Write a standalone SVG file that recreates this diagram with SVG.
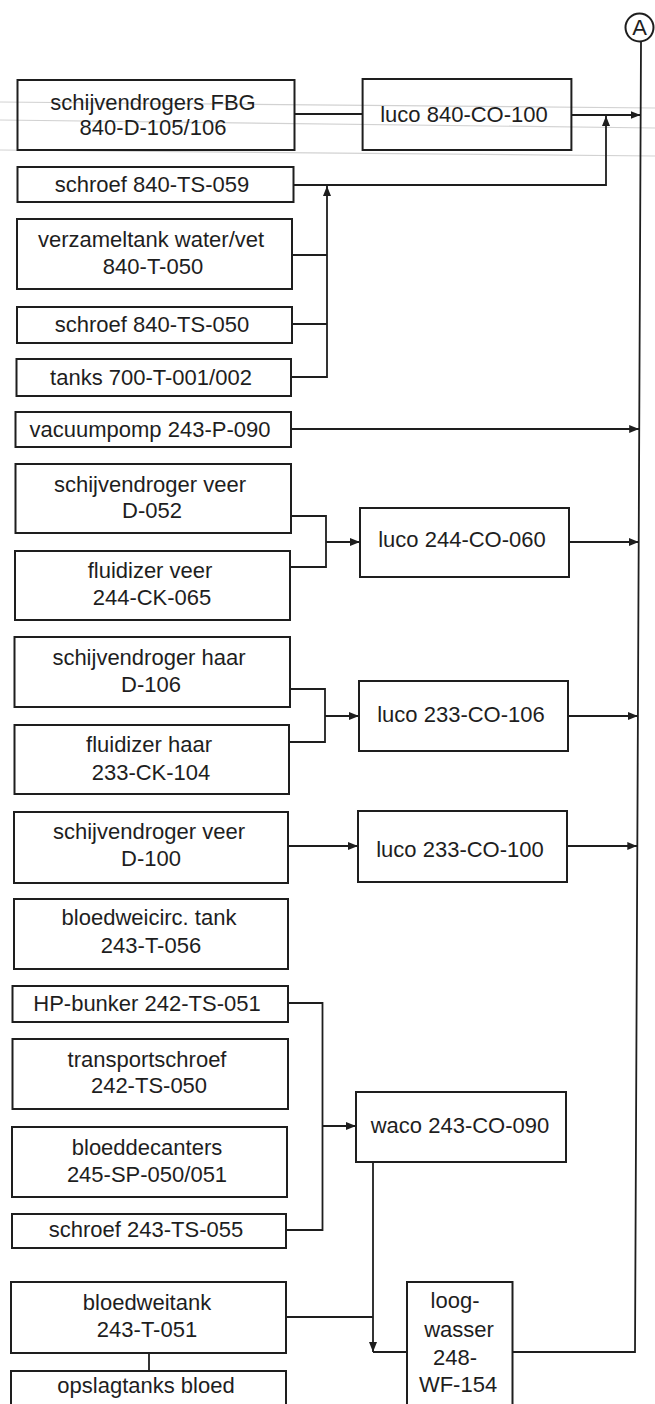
<svg xmlns="http://www.w3.org/2000/svg" width="655" height="1404" viewBox="0 0 655 1404">
  <style>
    .box { fill: none; stroke: #1e1e1e; stroke-width: 2; }
    .lbl { font-family: "Liberation Sans", Arial, sans-serif; font-size: 22px; fill: #1e1e1e; text-anchor: middle; }
    .wire { fill: none; stroke: #1e1e1e; stroke-width: 1.8; }
    .faint { fill: none; stroke: #d2d2d2; stroke-width: 1.2; }
  </style>
  <defs>
    <marker id="arrow" viewBox="0 0 10 8" refX="10" refY="4" markerWidth="10" markerHeight="8" markerUnits="userSpaceOnUse" orient="auto">
      <path d="M0,0 L10,4 L0,8 z" fill="#1e1e1e"/>
    </marker>
  </defs>
  <rect x="0" y="0" width="655" height="1404" fill="#ffffff"/>

  <!-- light ruling lines across the top band -->
  <g id="ruling">
    <line class="faint" x1="0" y1="102" x2="655" y2="108"/>
    <line class="faint" x1="0" y1="120" x2="655" y2="128"/>
    <line class="faint" x1="0" y1="150" x2="655" y2="156"/>
  </g>

  <!-- connectors -->
  <g id="connectors">
    <line class="wire" x1="294.5" y1="114" x2="362.6" y2="114"/>
    <line class="wire" x1="571.4" y1="115" x2="640.5" y2="115" marker-end="url(#arrow)"/>
    <polyline class="wire" points="293.6,185 606,185 606,116" marker-end="url(#arrow)"/>
    <polyline class="wire" points="292,255 327,255"/>
    <polyline class="wire" points="292,324 327,324"/>
    <polyline class="wire" points="291,377 327,377 327,186" marker-end="url(#arrow)"/>
    <line class="wire" x1="291" y1="429" x2="639.2" y2="429" marker-end="url(#arrow)"/>

    <polyline class="wire" points="291,516 326,516 326,567 290,567"/>
    <line class="wire" x1="326" y1="542" x2="360" y2="542" marker-end="url(#arrow)"/>
    <line class="wire" x1="569" y1="542" x2="638.7" y2="542" marker-end="url(#arrow)"/>

    <polyline class="wire" points="290,689 325,689 325,742 289,742"/>
    <line class="wire" x1="325" y1="716" x2="359" y2="716" marker-end="url(#arrow)"/>
    <line class="wire" x1="568" y1="716" x2="637.9" y2="716" marker-end="url(#arrow)"/>

    <line class="wire" x1="288" y1="846" x2="358" y2="846" marker-end="url(#arrow)"/>
    <line class="wire" x1="567" y1="846" x2="637.3" y2="846" marker-end="url(#arrow)"/>

    <polyline class="wire" points="288,1003 322.5,1003 322.5,1230 286,1230"/>
    <line class="wire" x1="322.5" y1="1126" x2="356" y2="1126" marker-end="url(#arrow)"/>

    <line class="wire" x1="373" y1="1162" x2="373" y2="1352" marker-end="url(#arrow)"/>
    <line class="wire" x1="373" y1="1352" x2="407" y2="1352"/>
    <line class="wire" x1="286" y1="1317" x2="373" y2="1317"/>
    <line class="wire" x1="149" y1="1353" x2="149" y2="1371"/>

    <polyline class="wire" points="512.5,1352 635,1352 641,42"/>
  </g>

  <!-- off-page connector A -->
  <g id="connector-A">
    <circle class="box" cx="639.5" cy="27.5" r="14" stroke-width="1.8"/>
    <text class="lbl" x="639.5" y="35" font-size="20">A</text>
  </g>

  <!-- sources, left column -->
  <g id="n-schijvendrogers-fbg">
    <rect class="box" x="17.5" y="80" width="277" height="70"/>
    <text class="lbl" x="153" y="110">schijvendrogers FBG</text>
    <text class="lbl" x="153" y="135">840-D-105/106</text>
  </g>
  <g id="n-schroef-840-ts-059">
    <rect class="box" x="17.5" y="167" width="276" height="35"/>
    <text class="lbl" x="152" y="192">schroef 840-TS-059</text>
  </g>
  <g id="n-verzameltank">
    <rect class="box" x="17" y="219" width="275" height="70"/>
    <text class="lbl" x="151" y="247">verzameltank water/vet</text>
    <text class="lbl" x="153" y="274">840-T-050</text>
  </g>
  <g id="n-schroef-840-ts-050">
    <rect class="box" x="17" y="307" width="275" height="36"/>
    <text class="lbl" x="152" y="332">schroef 840-TS-050</text>
  </g>
  <g id="n-tanks-700">
    <rect class="box" x="16.5" y="359" width="274.5" height="37"/>
    <text class="lbl" x="151" y="385">tanks 700-T-001/002</text>
  </g>
  <g id="n-vacuumpomp">
    <rect class="box" x="15.5" y="412" width="275.5" height="35"/>
    <text class="lbl" x="150" y="437">vacuumpomp 243-P-090</text>
  </g>
  <g id="n-schijvendroger-d052">
    <rect class="box" x="15.5" y="464" width="275.5" height="69"/>
    <text class="lbl" x="150" y="492">schijvendroger veer</text>
    <text class="lbl" x="152" y="518">D-052</text>
  </g>
  <g id="n-fluidizer-veer">
    <rect class="box" x="15" y="551" width="275" height="69"/>
    <text class="lbl" x="150" y="578">fluidizer veer</text>
    <text class="lbl" x="152" y="605">244-CK-065</text>
  </g>
  <g id="n-schijvendroger-d106">
    <rect class="box" x="14.5" y="637" width="275.5" height="70"/>
    <text class="lbl" x="149" y="665">schijvendroger haar</text>
    <text class="lbl" x="151" y="692">D-106</text>
  </g>
  <g id="n-fluidizer-haar">
    <rect class="box" x="14.5" y="725" width="274.5" height="69"/>
    <text class="lbl" x="149" y="752">fluidizer haar</text>
    <text class="lbl" x="151" y="780">233-CK-104</text>
  </g>
  <g id="n-schijvendroger-d100">
    <rect class="box" x="14" y="812" width="274" height="71"/>
    <text class="lbl" x="149" y="839">schijvendroger veer</text>
    <text class="lbl" x="151" y="866">D-100</text>
  </g>
  <g id="n-bloedweicirc">
    <rect class="box" x="14" y="899" width="274" height="70"/>
    <text class="lbl" x="149" y="925">bloedweicirc. tank</text>
    <text class="lbl" x="151" y="953">243-T-056</text>
  </g>
  <g id="n-hp-bunker">
    <rect class="box" x="12.5" y="986" width="275.5" height="36"/>
    <text class="lbl" x="147" y="1011">HP-bunker 242-TS-051</text>
  </g>
  <g id="n-transportschroef">
    <rect class="box" x="12.5" y="1039" width="275.5" height="70"/>
    <text class="lbl" x="147" y="1067">transportschroef</text>
    <text class="lbl" x="149" y="1093">242-TS-050</text>
  </g>
  <g id="n-bloeddecanters">
    <rect class="box" x="12" y="1127" width="275" height="70"/>
    <text class="lbl" x="147" y="1155">bloeddecanters</text>
    <text class="lbl" x="147" y="1182">245-SP-050/051</text>
  </g>
  <g id="n-schroef-243-ts-055">
    <rect class="box" x="12" y="1214" width="274" height="34"/>
    <text class="lbl" x="146" y="1237">schroef 243-TS-055</text>
  </g>
  <g id="n-bloedweitank">
    <rect class="box" x="11" y="1282" width="275" height="71"/>
    <text class="lbl" x="147" y="1310">bloedweitank</text>
    <text class="lbl" x="147" y="1337">243-T-051</text>
  </g>
  <g id="n-opslagtanks">
    <rect class="box" x="11" y="1371" width="275" height="45"/>
    <text class="lbl" x="146" y="1393">opslagtanks bloed</text>
  </g>

  <!-- treatment units, middle column -->
  <g id="n-luco-840-co-100">
    <rect class="box" x="362.6" y="79" width="208.8" height="71"/>
    <text class="lbl" x="464" y="122">luco 840-CO-100</text>
  </g>
  <g id="n-luco-244-co-060">
    <rect class="box" x="360" y="508" width="209" height="69"/>
    <text class="lbl" x="462" y="547">luco 244-CO-060</text>
  </g>
  <g id="n-luco-233-co-106">
    <rect class="box" x="359" y="681" width="209" height="70"/>
    <text class="lbl" x="461" y="722">luco 233-CO-106</text>
  </g>
  <g id="n-luco-233-co-100">
    <rect class="box" x="358" y="811" width="209" height="71"/>
    <text class="lbl" x="460" y="857">luco 233-CO-100</text>
  </g>
  <g id="n-waco-243-co-090">
    <rect class="box" x="356" y="1092" width="210" height="70"/>
    <text class="lbl" x="460" y="1133">waco 243-CO-090</text>
  </g>
  <g id="n-loogwasser">
    <rect class="box" x="407" y="1282" width="105.5" height="134"/>
    <text class="lbl" x="455" y="1308">loog-</text>
    <text class="lbl" x="459" y="1337">wasser</text>
    <text class="lbl" x="455" y="1365">248-</text>
    <text class="lbl" x="458" y="1392">WF-154</text>
  </g>
</svg>
